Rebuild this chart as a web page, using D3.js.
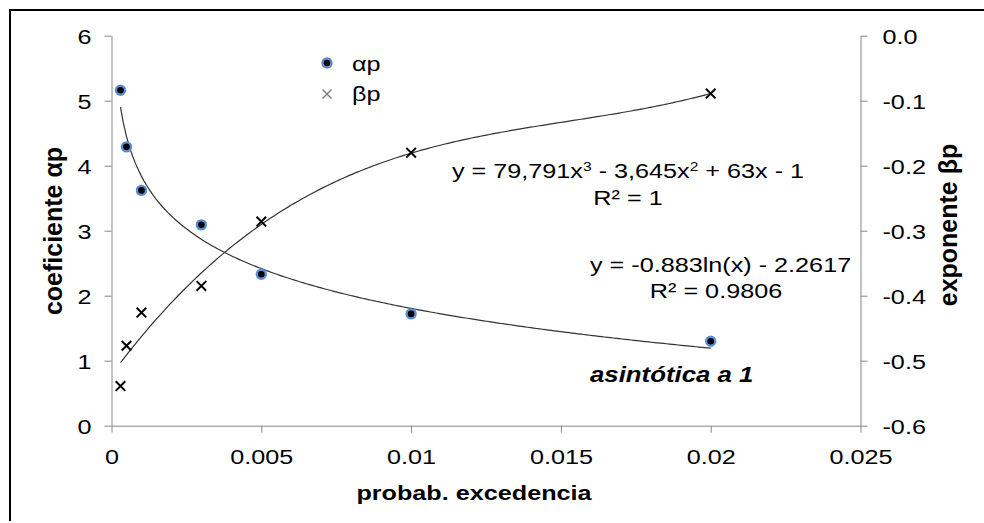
<!DOCTYPE html>
<html>
<head>
<meta charset="utf-8">
<script src="https://cdn.jsdelivr.net/npm/d3@7/dist/d3.min.js"></script>
<style>
  html, body { margin: 0; padding: 0; background: #fff; }
  svg { display: block; }
  text { font-family: "Liberation Sans", Arial, sans-serif; fill: #000; }
</style>
</head>
<body>
<svg id="chart" width="984" height="523"></svg>
<script>
// ---------- data ----------
const probX = [0.0003, 0.0005, 0.001, 0.003, 0.005, 0.01, 0.02];
const alphaP = [5.16, 4.29, 3.62, 3.09, 2.33, 1.72, 1.30];
const betaP = [-0.539, -0.477, -0.426, -0.385, -0.286, -0.180, -0.089];
const logTrendCoefs = [-0.883, -2.2617]; // y = a ln(x) + b
const xTicks = [0, 0.005, 0.01, 0.015, 0.02, 0.025];
const yLeftTicks = [0, 1, 2, 3, 4, 5, 6];
const yRightTicks = [0, -0.1, -0.2, -0.3, -0.4, -0.5, -0.6];
const legendLabels = ["\u03b1p", "\u03b2p"];
const eqBeta = ["y = 79,791x", "3", " - 3,645x", "2", " + 63x - 1"];
const r2Beta = "R\u00b2 = 1";
const eqAlpha = "y = -0.883ln(x) - 2.2617";
const r2Alpha = "R\u00b2 = 0.9806";
const note = "asint\u00f3tica  a 1";
const xTitle = "probab. excedencia";
const yLeftTitle = "coeficiente \u03b1p";
const yRightTitle = "exponente \u03b2p";

// ---------- layout ----------
const SX = 1.2; // horizontal stretch of text in the reference
const svg = d3.select("#chart");
const L = 111.5, R = 860.5, T = 35.7, B = 425.7;
const x = d3.scaleLinear().domain([0, 0.025]).range([L, R]);
const yL = d3.scaleLinear().domain([0, 6]).range([B, T]);
const yR = d3.scaleLinear().domain([-0.6, 0]).range([B, T]);
const axisColor = "#868686";

// outer frame
svg.append("path").attr("d", "M10,521V10H984")
  .attr("fill", "none").attr("stroke", "#000").attr("stroke-width", 2);

function styleAxis(g) {
  g.selectAll("path.domain").attr("stroke", axisColor);
  g.selectAll(".tick line").attr("stroke", axisColor);
  g.selectAll(".tick text").attr("font-size", 21)
    .attr("font-family", "Liberation Sans, Arial, sans-serif").attr("fill", "#000");
}

// bottom axis
const gx = svg.append("g").attr("transform", `translate(0,${B})`)
  .call(d3.axisBottom(x).tickValues(xTicks).tickSize(7).tickSizeOuter(0)
    .tickFormat(d => String(+d.toFixed(3))));
styleAxis(gx);
gx.selectAll(".tick text").attr("y", 38).attr("dy", 0).attr("transform", `scale(${SX},1)`);

// left axis
const gl = svg.append("g").attr("transform", `translate(${L},0)`)
  .call(d3.axisLeft(yL).tickValues(yLeftTicks).tickSize(7).tickSizeOuter(0)
    .tickFormat(d3.format("d")));
styleAxis(gl);
gl.selectAll(".tick text").attr("x", -20 / SX).attr("dy", "0.36em").attr("transform", `scale(${SX},1)`);

// right axis
const gr = svg.append("g").attr("transform", `translate(${R},0)`)
  .call(d3.axisRight(yR).tickValues(yRightTicks).tickSize(7).tickSizeOuter(0)
    .tickFormat(d => d3.format(".1f")(d).replace("\u2212", "-")));
styleAxis(gr);
gr.selectAll(".tick text").attr("x", 22 / SX).attr("dy", "0.36em").attr("transform", `scale(${SX},1)`);

// ---------- trend lines ----------
const xMin = d3.min(probX), xMax = d3.max(probX);
const samples = d3.range(0, 201).map(i => xMin + (xMax - xMin) * i / 200);
const logFit = v => logTrendCoefs[0] * Math.log(v) + logTrendCoefs[1];

// cubic least-squares fit for betaP (x scaled by 1000 for conditioning)
function polyFit(xs, ys, deg) {
  const n = deg + 1;
  const A = Array.from({length: n}, () => new Array(n + 1).fill(0));
  xs.forEach((xv, k) => {
    for (let i = 0; i < n; i++) {
      for (let j = 0; j < n; j++) A[i][j] += Math.pow(xv, i + j);
      A[i][n] += ys[k] * Math.pow(xv, i);
    }
  });
  for (let c = 0; c < n; c++) {
    let p = c;
    for (let r = c + 1; r < n; r++) if (Math.abs(A[r][c]) > Math.abs(A[p][c])) p = r;
    [A[c], A[p]] = [A[p], A[c]];
    for (let r = 0; r < n; r++) {
      if (r === c) continue;
      const f = A[r][c] / A[c][c];
      for (let k = c; k <= n; k++) A[r][k] -= f * A[c][k];
    }
  }
  return A.map((row, i) => row[n] / row[i]);
}
const cub = polyFit(probX.map(v => v * 1000), betaP, 3);
const cubFit = v => { const t = v * 1000; return cub[0] + cub[1] * t + cub[2] * t * t + cub[3] * t * t * t; };

const line = d3.line();
svg.append("path").attr("d", line(samples.map(v => [x(v), yL(logFit(v))])))
  .attr("fill", "none").attr("stroke", "#333").attr("stroke-width", 1.2);
svg.append("path").attr("d", line(samples.map(v => [x(v), yR(cubFit(v))])))
  .attr("fill", "none").attr("stroke", "#333").attr("stroke-width", 1.2);

// ---------- markers ----------
function cross(g, cx, cy, s, color, w) {
  g.append("path").attr("d", `M${cx - s},${cy - s}L${cx + s},${cy + s}M${cx - s},${cy + s}L${cx + s},${cy - s}`)
    .attr("stroke", color).attr("stroke-width", w).attr("fill", "none");
}
svg.append("g").selectAll("circle").data(probX).join("circle")
  .attr("cx", d => x(d)).attr("cy", (d, i) => yL(alphaP[i])).attr("r", 4.5)
  .attr("fill", "#000").attr("stroke", "#5b8ed0").attr("stroke-width", 2.4);
const gb = svg.append("g");
probX.forEach((d, i) => cross(gb, x(d), yR(betaP[i]), 4.8, "#000", 2));

// ---------- legend ----------
const lg = svg.append("g");
lg.append("circle").attr("cx", 327).attr("cy", 63).attr("r", 4.5)
  .attr("fill", "#000").attr("stroke", "#5b8ed0").attr("stroke-width", 2.4);
cross(lg, 327, 94, 4.5, "#777", 1.3);
function stext(str, tx, ty, opts = {}) {
  const t = svg.append("text").attr("transform", `translate(${tx},${ty}) scale(${SX},1)`)
    .attr("font-size", opts.size || 21).text(str);
  if (opts.anchor) t.attr("text-anchor", opts.anchor);
  if (opts.weight) t.attr("font-weight", opts.weight);
  if (opts.style) t.attr("font-style", opts.style);
  return t;
}
stext(legendLabels[0], 352, 71);
stext(legendLabels[1], 352, 101);

// ---------- annotations ----------
const eq1 = svg.append("text").attr("transform", `translate(452,178) scale(${SX},1)`).attr("font-size", 21);
eqBeta.forEach((s, i) => {
  const sp = eq1.append("tspan").text(s);
  if (i % 2 === 1) sp.attr("font-size", 13).attr("dy", -7);
  else if (i > 0) sp.attr("dy", 7);
});
stext(r2Beta, 628, 205, {anchor: "middle"});
stext(eqAlpha, 590, 272);
stext(r2Alpha, 716, 298, {anchor: "middle"});
stext(note, 590, 382, {weight: "bold", style: "italic", size: 21.5});

// ---------- axis titles ----------
stext(xTitle, 474, 500, {anchor: "middle", weight: "bold", size: 21});
svg.append("text").attr("transform", `translate(62,231) rotate(-90)`)
  .attr("text-anchor", "middle").attr("font-weight", "bold").attr("font-size", 25).text(yLeftTitle);
svg.append("text").attr("transform", `translate(957,225) rotate(-90)`)
  .attr("text-anchor", "middle").attr("font-weight", "bold").attr("font-size", 25).text(yRightTitle);
</script>
</body>
</html>
